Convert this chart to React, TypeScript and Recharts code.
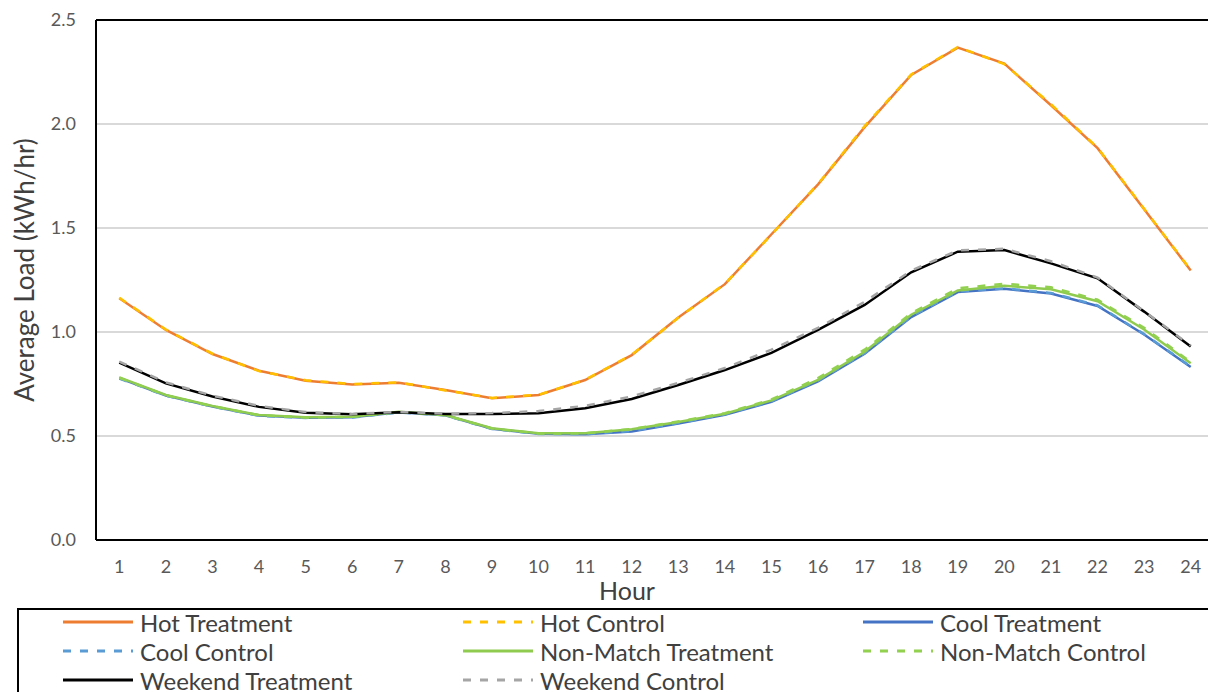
import React from 'react';
import { LineChart, Line, XAxis, YAxis, CartesianGrid, ReferenceLine } from 'recharts';

// Average hourly load per group.
const hours = [1, 2, 3, 4, 5, 6, 7, 8, 9, 10, 11, 12, 13, 14, 15, 16, 17, 18, 19, 20, 21, 22, 23, 24];

const hotTreatment = [1.162, 1.01, 0.894, 0.814, 0.766, 0.748, 0.756, 0.721, 0.681, 0.697, 0.769, 0.889, 1.07, 1.23, 1.47, 1.71, 1.985, 2.236, 2.367, 2.29, 2.09, 1.884, 1.59, 1.296];
const hotControl = [1.165, 1.012, 0.896, 0.812, 0.768, 0.75, 0.758, 0.719, 0.683, 0.698, 0.77, 0.891, 1.068, 1.232, 1.468, 1.712, 1.99, 2.238, 2.37, 2.288, 2.095, 1.886, 1.592, 1.298];
const coolTreatment = [0.778, 0.695, 0.642, 0.598, 0.588, 0.59, 0.614, 0.6, 0.535, 0.511, 0.508, 0.522, 0.56, 0.602, 0.664, 0.763, 0.895, 1.072, 1.192, 1.208, 1.185, 1.125, 0.988, 0.832];
const coolControl = [0.776, 0.694, 0.641, 0.597, 0.587, 0.589, 0.613, 0.599, 0.534, 0.51, 0.509, 0.524, 0.562, 0.604, 0.667, 0.766, 0.898, 1.075, 1.195, 1.21, 1.188, 1.128, 0.99, 0.834];
const nonMatchTreatment = [0.782, 0.697, 0.644, 0.601, 0.59, 0.593, 0.617, 0.601, 0.537, 0.513, 0.513, 0.532, 0.567, 0.607, 0.671, 0.77, 0.905, 1.083, 1.2, 1.222, 1.205, 1.148, 1.012, 0.85];
const nonMatchControl = [0.78, 0.696, 0.643, 0.6, 0.589, 0.592, 0.615, 0.6, 0.536, 0.512, 0.513, 0.534, 0.57, 0.61, 0.676, 0.778, 0.915, 1.09, 1.21, 1.232, 1.215, 1.155, 1.02, 0.856];
const weekendTreatment = [0.853, 0.753, 0.69, 0.64, 0.612, 0.604, 0.614, 0.606, 0.606, 0.609, 0.633, 0.678, 0.745, 0.817, 0.9, 1.01, 1.13, 1.287, 1.386, 1.394, 1.33, 1.258, 1.098, 0.93];
const weekendControl = [0.858, 0.758, 0.694, 0.645, 0.615, 0.606, 0.616, 0.607, 0.61, 0.62, 0.645, 0.69, 0.755, 0.827, 0.915, 1.02, 1.145, 1.295, 1.392, 1.4, 1.34, 1.262, 1.1, 0.935];

const yTicks = [0, 0.5, 1, 1.5, 2, 2.5];

const SERIES = [
  { key: 'hotT', name: 'Hot Treatment', values: hotTreatment, color: '#ED7D31', dashed: false },
  { key: 'hotC', name: 'Hot Control', values: hotControl, color: '#FFC000', dashed: true },
  { key: 'coolT', name: 'Cool Treatment', values: coolTreatment, color: '#4472C4', dashed: false },
  { key: 'coolC', name: 'Cool Control', values: coolControl, color: '#5B9BD5', dashed: true },
  { key: 'nmT', name: 'Non-Match Treatment', values: nonMatchTreatment, color: '#8FCB4E', dashed: false },
  { key: 'nmC', name: 'Non-Match Control', values: nonMatchControl, color: '#92D050', dashed: true },
  { key: 'wkT', name: 'Weekend Treatment', values: weekendTreatment, color: '#000000', dashed: false },
  { key: 'wkC', name: 'Weekend Control', values: weekendControl, color: '#A5A5A5', dashed: true },
];

const data = hours.map((hour, i) => {
  const row: Record<string, number> = { hour };
  SERIES.forEach((s) => {
    row[s.key] = s.values[i];
  });
  return row;
});

const FONT = 'Lato, "Open Sans", sans-serif';
const DASH = '8 9';
const LINE_W = 2.5;

function LegendBox() {
  return (
    <div
      style={{
        position: 'absolute',
        left: 17,
        top: 608,
        width: 1300,
        height: 200,
        border: '2px solid #000',
        boxSizing: 'border-box',
      }}
    >
      {SERIES.map((s, i) => {
        const col = i % 3;
        const row = Math.floor(i / 3);
        return (
          <div
            key={s.key}
            style={{
              position: 'absolute',
              left: 44 + col * 400,
              top: -3 + row * 29,
              height: 30,
              display: 'flex',
              alignItems: 'center',
              whiteSpace: 'nowrap',
            }}
          >
            <svg width={70} height={6} style={{ marginRight: 7 }}>
              <line
                x1={0}
                y1={3}
                x2={70}
                y2={3}
                stroke={s.color}
                strokeWidth={3}
                strokeDasharray={s.dashed ? DASH : undefined}
              />
            </svg>
            <span style={{ fontSize: 24, color: '#404040', fontFamily: FONT }}>{s.name}</span>
          </div>
        );
      })}
    </div>
  );
}

export default function App() {
  return (
    <div style={{ position: 'relative', width: 1208, height: 692, overflow: 'hidden', fontFamily: FONT, background: '#fff' }}>
      <style>{'body{margin:0}'}</style>
      <LineChart
        width={1214}
        height={610}
        data={data}
        margin={{ top: 20, right: 0, left: 0, bottom: 0 }}
        style={{ position: 'absolute', left: 0, top: 0 }}
      >
        <CartesianGrid vertical={false} stroke="#d9d9d9" strokeWidth={2} />
        <XAxis
          dataKey="hour"
          type="number"
          domain={[0.5, 24.5]}
          ticks={hours}
          interval={0}
          height={70}
          tickLine={false}
          tickMargin={14}
          axisLine={{ stroke: '#000', strokeWidth: 2 }}
          tick={{ fontSize: 18, fill: '#595959', fontFamily: FONT }}
          label={{ value: 'Hour', position: 'insideBottom', offset: 10, dx: -28, fontSize: 25, fill: '#404040', fontFamily: FONT }}
        />
        <YAxis
          type="number"
          domain={[0, 2.5]}
          ticks={yTicks}
          width={96}
          tickLine={false}
          tickMargin={14}
          axisLine={{ stroke: '#000', strokeWidth: 2 }}
          tickFormatter={(v: number) => v.toFixed(1)}
          tick={{ fontSize: 18, fill: '#595959', fontFamily: FONT }}
          label={{ value: 'Average Load (kWh/hr)', angle: -90, position: 'center', dx: -23, dy: -10, fontSize: 26, fill: '#404040', fontFamily: FONT }}
        />
        <ReferenceLine y={2.5} stroke="#000" strokeWidth={2} />
        {SERIES.map((s) => (
          <Line
            key={s.key}
            dataKey={s.key}
            name={s.name}
            type="linear"
            stroke={s.color}
            strokeWidth={LINE_W}
            strokeDasharray={s.dashed ? DASH : undefined}
            dot={false}
            activeDot={false}
            isAnimationActive={false}
          />
        ))}
      </LineChart>
      <LegendBox />
    </div>
  );
}
